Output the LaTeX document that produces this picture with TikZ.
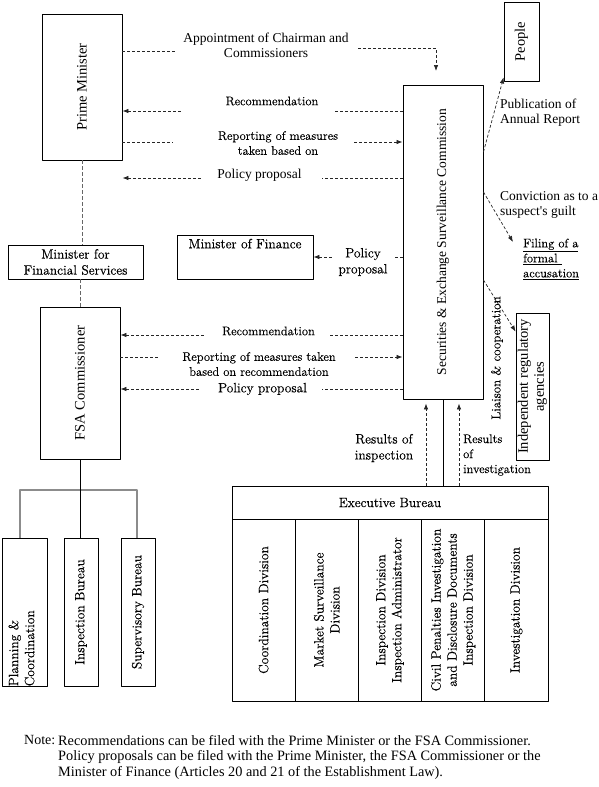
\documentclass[tikz,border=0pt]{standalone}
\usepackage{fontspec}
\setmainfont{Latin Modern Roman}[FakeBold=0.35]
\newfontfamily\tmsfont{Liberation Serif}
\usetikzlibrary{arrows.meta,calc}
\tikzset{
	box/.style={draw,line width=0.9pt,inner sep=0pt},
	tms/.style={font=\tmsfont\fontsize{13.5}{15}\selectfont,align=center,inner sep=0pt},
	tbig/.style={font=\tmsfont\fontsize{14.5}{16}\selectfont,align=center,inner sep=0pt},
	cen/.style={font=\fontsize{12.5}{15}\selectfont,align=center,inner sep=0pt},
	cbig/.style={font=\fontsize{13.5}{16}\selectfont,align=center,inner sep=0pt},
	dline/.style={draw=black!85,line width=0.7pt,dash pattern=on 3pt off 2pt},
	vline/.style={draw=black!60,line width=0.7pt,dash pattern=on 4pt off 2pt},
	gline/.style={draw=black!45,line width=1.2pt}
}
\begin{document}
\begin{tikzpicture}[x=1pt,y=-1pt,line join=round,>={Latex[length=6pt,width=4.5pt]}]
	\useasboundingbox (0,0) rectangle (599,787);
	% boxes
	\node[box,minimum width=80,minimum height=146,label={[tbig,rotate=90]center:Prime Minister}] (pm) at (82,87) {};
	\node[box,minimum width=35,minimum height=79,label={[tbig,rotate=90]center:People}] (people) at (521.5,41.5) {};
	\node[box,minimum width=80,minimum height=314,label={[tms,rotate=90]center:Securities \& Exchange Surveillance Commission}] (sesc) at (443,242) {};
	\node[box,cbig,minimum width=135,minimum height=34] (mfs) at (75.5,262) {Minister for\\Financial Services};
	\node[box,minimum width=136,minimum height=44,label={[cbig,anchor=north,yshift=-4pt]north:Minister of Finance}] (mof) at (245,257) {};
	\node[box,minimum width=80,minimum height=152,label={[tbig,rotate=90]center:FSA Commissioner}] (fsa) at (80,383) {};
	\node[box,minimum width=45,minimum height=148,label={[cbig,rotate=90,align=left,anchor=west,yshift=3pt]south:Planning \&\\Coordination}] (plan) at (24.5,612) {};
	\node[box,minimum width=34,minimum height=148,label={[cbig,rotate=90]center:Inspection Bureau}] (insp) at (81,612) {};
	\node[box,minimum width=34,minimum height=148,label={[cbig,rotate=90]center:Supervisory Bureau}] (sup) at (138,612) {};
	\node[box,minimum width=33,minimum height=147,label={[tbig,rotate=90]center:Independent regulatory\\agencies}] (ira) at (532.5,386.5) {};
	\node[box,cbig,minimum width=316,minimum height=33] (eb) at (390,502.5) {Executive Bureau};
	\foreach \txt [count=\i] in {{Coordination Division},{Market Surveillance\\Division},{Inspection Division\\Inspection Administrator},{Civil Penalties Investigation\\and Disclosure Documents\\Inspection Division},{Investigation Division}}
		\node[box,minimum width=63.2,minimum height=182,label={[cbig,rotate=90]center:\txt}] (div\i) at ({232+63.2*(\i-0.5)},610) {};
	% minister chain
	\draw[vline] (pm.south) -- (mfs.north -| pm.south);
	\draw[vline] (mfs.south -| fsa.north) -- (fsa.north);
	\coordinate (jn) at (80,490);
	\draw[gline] ([xshift=-4.5pt]plan.north) |- (jn) -| ([xshift=-1pt]sup.north);
	\draw[line width=0.9pt] (fsa.south) -- (fsa.south |- insp.north);
	% to the Prime Minister
	\node[tms] (appt) at (266,45) {Appointment of Chairman and\\Commissioners};
	\draw[dline] (pm.east |- 0,51) -- (176,51);
	\draw[dline,->] (358,48) -| (436,71);
	\node[cen] (rec1) at (272,101) {Recommendation};
	\draw[dline,<-] (pm.east |- 0,111) -- (183,111);
	\draw[dline] (sesc.west |- 0,111) -- (334,111);
	\node[cen] (rep1) at (278,143) {Reporting of measures\\taken based on};
	\draw[dline] (pm.east |- 0,142) -- (173,142);
	\draw[dline,->] (354,142) -- (sesc.west |- 0,142);
	\node[tms] (pol1) at (259.5,175) {Policy proposal};
	\draw[dline,<-] (pm.east |- 0,178) -- (202,178);
	\draw[dline] (sesc.west |- 0,178) -- (322,178);
	% to the Minister of Finance
	\node[cbig] (pol3) at (363,262) {Policy\\proposal};
	\draw[dline,<-] (mof.east) -- (332,257);
	\draw[dline] (sesc.west |- 0,257) -- (393,257);
	% to the FSA Commissioner
	\node[cen] (rec2) at (268.5,331) {Recommendation};
	\draw[dline,<-] (fsa.east |- 0,335) -- (206,335);
	\draw[dline] (sesc.west |- 0,335) -- (330,335);
	\node[cen] (rep2) at (259,364) {Reporting of measures taken\\based on recommendation};
	\draw[dline] (fsa.east |- 0,357) -- (160,357);
	\draw[dline,->] (355,357) -- (sesc.west |- 0,357);
	\node[cbig] (pol2) at (262.5,389) {Policy proposal};
	\draw[dline,<-] (fsa.east |- 0,389) -- (201,389);
	\draw[dline] (sesc.west |- 0,389) -- (322,389);
	% right side
	\node[tms,align=left,anchor=west] (pub) at (500,113) {Publication of\\Annual Report};
	\draw[dline,->] (sesc.east |- 0,152) -- ([yshift=4pt]people.south west);
	\node[tms,align=left,anchor=west] (conv) at (500,205) {Conviction as to a\\suspect's guilt};
	\node[cen,align=left,anchor=west] (fil) at (523,259) {\underline{Filing of a}\\\underline{formal\ }\\\underline{accusation}};
	\draw[dline,->] (sesc.east |- 0,192) -- (513,242);
	\draw[dline,->] (sesc.east |- 0,280) -- ([yshift=-19pt]ira.north west);
	\node[font=\fontsize{13}{15}\selectfont,inner sep=0pt,rotate=90] (lia) at (497,358) {Liaison \& cooperation};
	% results from the Executive Bureau
	\draw[line width=0.9pt] (sesc.south) -- (sesc.south |- eb.north);
	\coordinate (ri) at ($(sesc.south)+(-17,4)$);
	\coordinate (rv) at ($(sesc.south)+(16,4)$);
	\draw[dline,->] (eb.north -| ri) -- (ri);
	\draw[dline,->] (eb.north -| rv) -- (rv);
	\node[cbig] (resi) at (384,448) {Results of\\inspection};
	\node[cen,align=left,anchor=west] (resv) at (463,455) {Results\\of\\investigation};
	% note
	\node[font=\tmsfont\fontsize{14}{15.5}\selectfont,inner sep=0pt,anchor=north west] (notehd) at (24,735) {Note:};
	\node[font=\tmsfont\fontsize{14.3}{15.5}\selectfont,inner sep=0pt,anchor=north west,align=left] (note) at (58,735) {Recommendations can be filed with the Prime Minister or the FSA Commissioner.\\Policy proposals can be filed with the Prime Minister, the FSA Commissioner or the\\Minister of Finance (Articles 20 and 21 of the Establishment Law).};
\end{tikzpicture}
\end{document}
